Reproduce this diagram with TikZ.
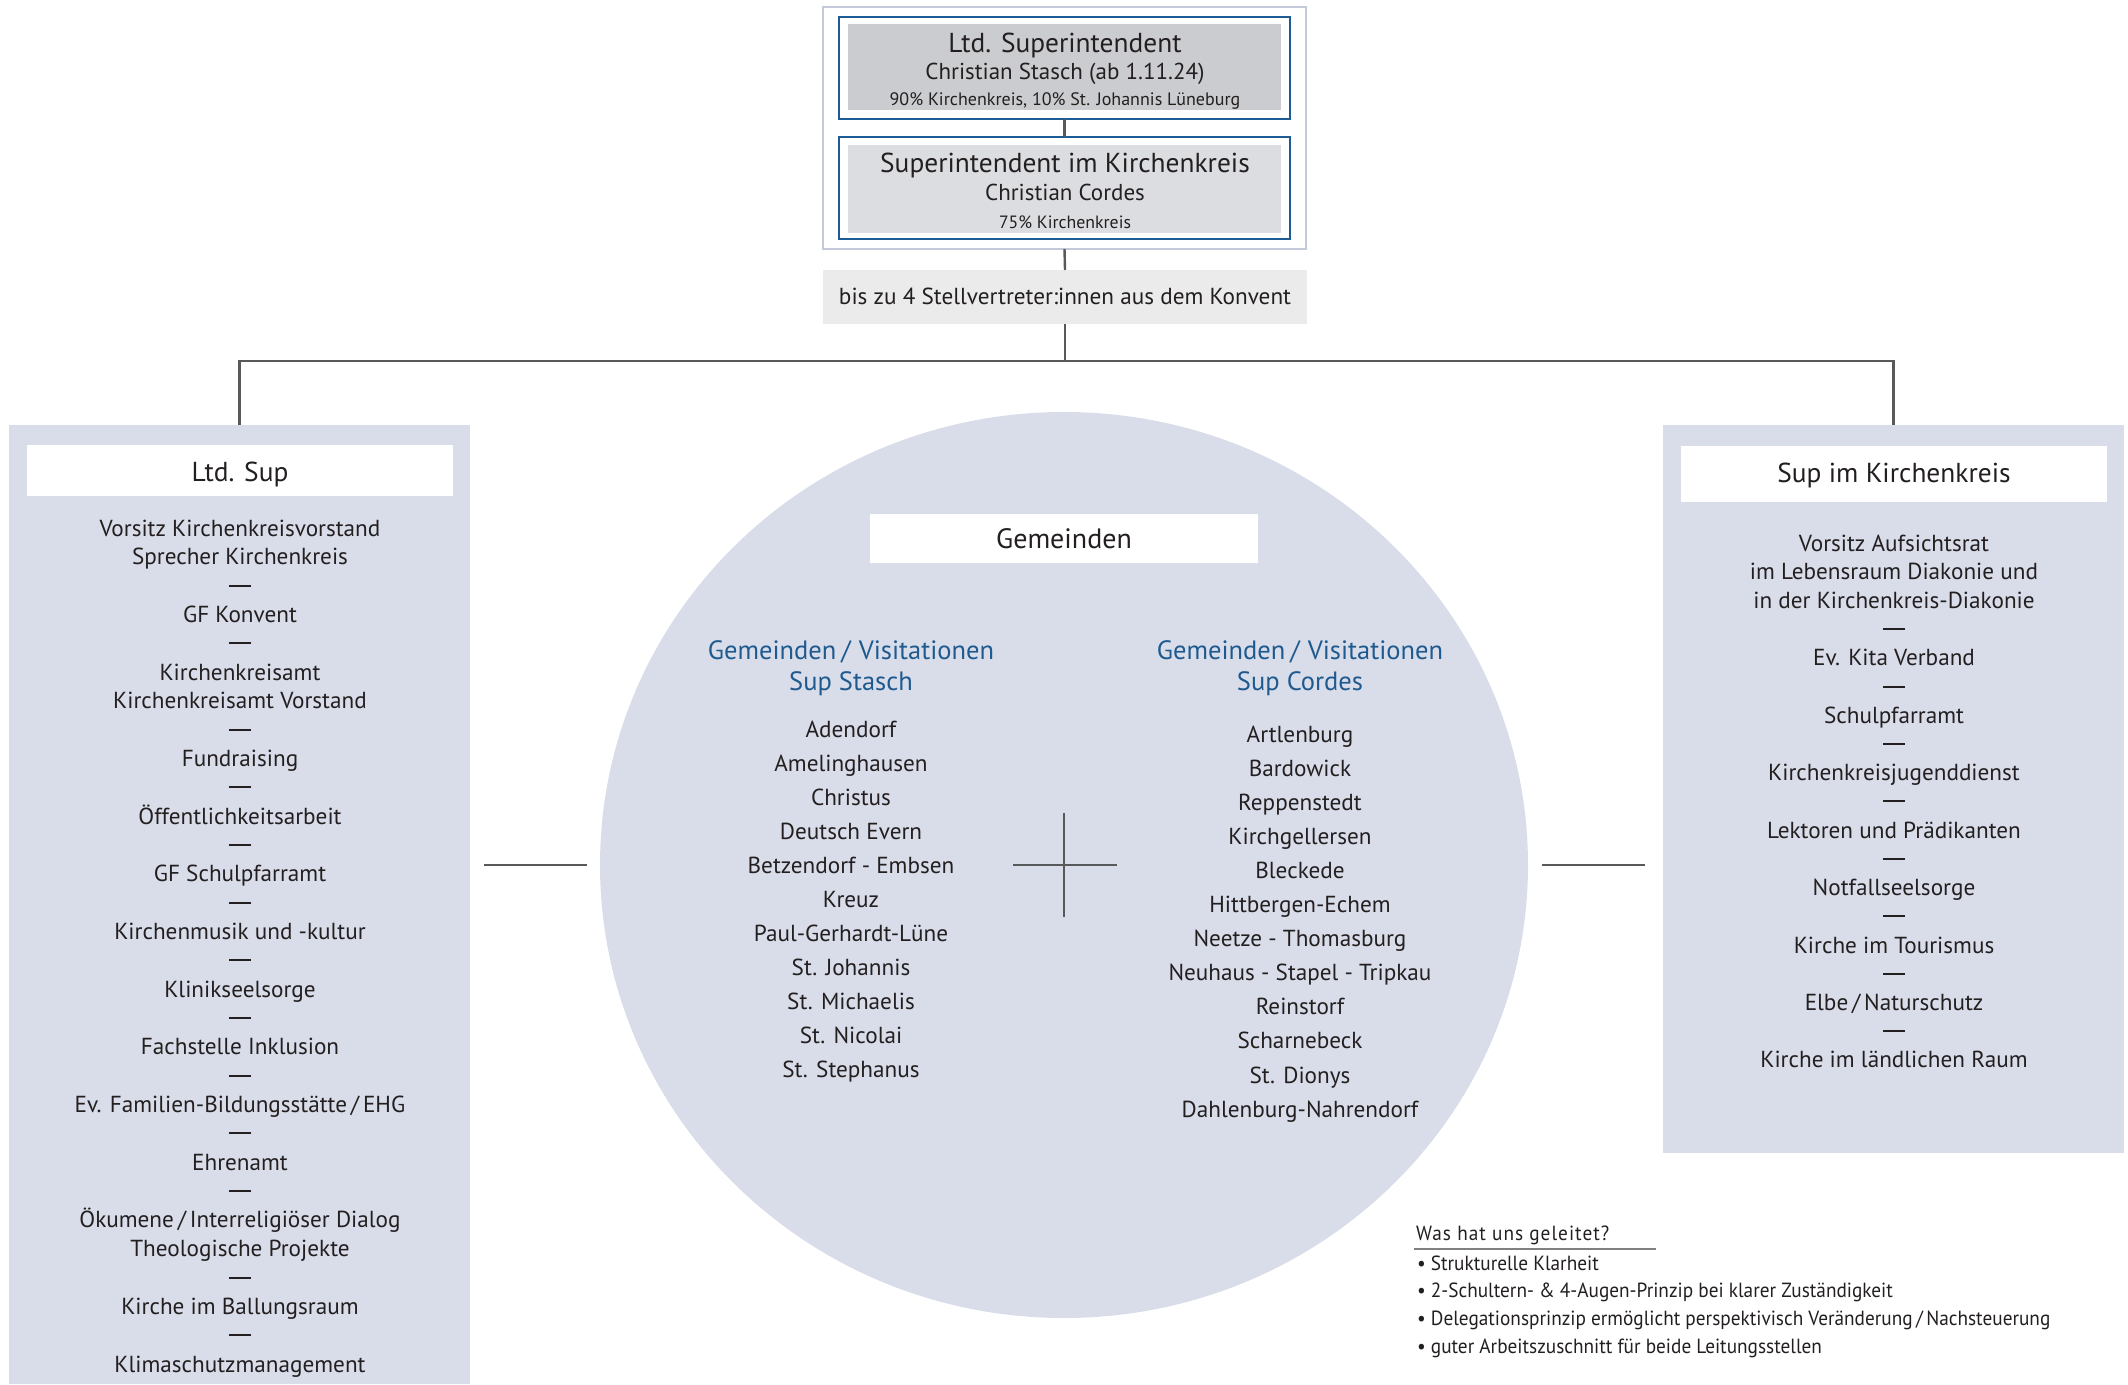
\documentclass[tikz,border=0pt]{standalone}
\usepackage{fontspec}
\setmainfont{PT Sans}
\newfontfamily\condfont[FakeStretch=0.94]{PT Sans}
\usetikzlibrary{positioning,shapes.geometric}
\definecolor{txt}{HTML}{231F20}
\definecolor{panelbg}{HTML}{D9DDE9}
\definecolor{framebl}{HTML}{1C5D95}
\definecolor{outerfr}{HTML}{C5CADB}
\definecolor{grayA}{HTML}{CBCCCF}
\definecolor{grayB}{HTML}{DCDDE0}
\definecolor{grayC}{HTML}{EBEBEB}
\definecolor{linec}{HTML}{58595B}
\definecolor{bluetxt}{HTML}{1E5A8F}
\newcommand\sepdash{\textcolor{txt}{\rule[7pt]{22pt}{2pt}}}
\tikzset{
  box/.style={inner sep=0pt, outer sep=0pt, anchor=north west},
  conn/.style={draw=linec, line width=2.4pt},
  lbl/.style={inner sep=0pt, anchor=base, text=txt},
  item/.style={lbl, font=\fontsize{23.2}{26}\selectfont},
  head/.style={lbl, text=bluetxt, font=\fontsize{26.5}{30}\selectfont},
}
\begin{document}
\begin{tikzpicture}[x=1pt,y=-1pt]
\useasboundingbox (0,0) rectangle (2128,1384);
% top group
\node[box, draw=outerfr, line width=1.5pt, fill=white, minimum width=483pt, minimum height=242pt] (outer) at (823,7) {};
\node[box, draw=framebl, line width=2.5pt, fill=white, minimum width=451pt, minimum height=102pt] (b1) at (839,17) {};
\node[box, fill=grayA, minimum width=433pt, minimum height=86pt] (b1in) at (848,24) {};
\node[box, draw=framebl, line width=2.5pt, fill=white, minimum width=451pt, minimum height=102pt] (b2) at (839,137) {};
\node[box, fill=grayB, minimum width=433pt, minimum height=88pt] (b2in) at (848,145) {};
\node[lbl, font=\fontsize{27.4}{30}\selectfont] (t1a) at (1065,52) {Ltd. Superintendent};
\node[lbl, font=\fontsize{23}{26}\selectfont] (t1b) at (1065,79) {Christian Stasch (ab 1.11.24)};
\node[lbl, font=\fontsize{18}{20}\selectfont] (t1c) at (1065,105) {90\% Kirchenkreis, 10\% St. Johannis Lüneburg};
\node[lbl, font=\fontsize{27.4}{30}\selectfont] (t2a) at (1065,172) {Superintendent im Kirchenkreis};
\node[lbl, font=\fontsize{23}{26}\selectfont] (t2b) at (1065,200) {Christian Cordes};
\node[lbl, font=\fontsize{17.8}{20}\selectfont] (t2c) at (1065,228) {75\% Kirchenkreis};
\draw[conn] (b1.south) -- (b2.north);
% Konvent
\node[box, fill=grayC, minimum width=484pt, minimum height=54pt] (konv) at (823,270) {};
\node[lbl, font=\fontsize{23.2}{26}\selectfont] (konvt) at (1065,304) {bis zu 4 Stellvertreter:innen aus dem Konvent};
\draw[conn] (outer.south) -- (konv.north);
% panels
\node[box, fill=panelbg, minimum width=461pt, minimum height=959pt] (lp) at (9,425) {};
\node[box, fill=panelbg, minimum width=461pt, minimum height=728pt] (rp) at (1663,425) {};
\draw[conn] (konv.south) -- (1065,361) -| (lp.north);
\draw[conn] (1065,361) -| (rp.north);
\node[box, fill=white, minimum width=426pt, minimum height=51pt] (lt) at (27,445) {};
\node[lbl, font=\fontsize{27.4}{30}\selectfont] (ltt) at (240,481) {Ltd. Sup};
\node[box, fill=white, minimum width=426pt, minimum height=56pt] (rt) at (1681,446) {};
\node[lbl, font=\fontsize{27.4}{30}\selectfont] (rtt) at (1894,482) {Sup im Kirchenkreis};
\foreach \t [count=\i from 0] in {Vorsitz Kirchenkreisvorstand, Sprecher Kirchenkreis, \sepdash, GF Konvent, \sepdash, Kirchenkreisamt, Kirchenkreisamt Vorstand, \sepdash, Fundraising, \sepdash, Öffentlichkeitsarbeit, \sepdash, GF Schulpfarramt, \sepdash, Kirchenmusik und -kultur, \sepdash, Klinikseelsorge, \sepdash, Fachstelle Inklusion, \sepdash, Ev. Familien-Bildungsstätte\,/\,EHG, \sepdash, Ehrenamt, \sepdash, Ökumene\,/\,Interreligiöser Dialog, Theologische Projekte, \sepdash, Kirche im Ballungsraum, \sepdash, Klimaschutzmanagement}
  \node[item] (L\i) at (240,536+\i*28.83) {\t};
\foreach \t [count=\i from 0] in {Vorsitz Aufsichtsrat, im Lebensraum Diakonie und, in der Kirchenkreis-Diakonie, \sepdash, Ev. Kita Verband, \sepdash, Schulpfarramt, \sepdash, Kirchenkreisjugenddienst, \sepdash, Lektoren und Prädikanten, \sepdash, Notfallseelsorge, \sepdash, Kirche im Tourismus, \sepdash, Elbe\,/\,Naturschutz, \sepdash, Kirche im ländlichen Raum}
  \node[item] (R\i) at (1894,551+\i*28.72) {\t};
% circle
\node[ellipse, fill=panelbg, minimum width=928pt, minimum height=906pt, inner sep=0pt] (circ) at (1064,865) {};
\node[box, fill=white, minimum width=388pt, minimum height=49pt] (gem) at (870,514) {};
\node[lbl, font=\fontsize{28}{30}\selectfont] (gemt) at (1064,548) {Gemeinden};
\coordinate (la) at (484,865); \coordinate (lb) at (587,865);
\coordinate (ra) at (1542,865); \coordinate (rb) at (1645,865);
\draw[conn] (la) -- (lb);
\draw[conn] (ra) -- (rb);
\coordinate (cxa) at (1013,865); \coordinate (cxb) at (1117,865);
\coordinate (cya) at (1064,813); \coordinate (cyb) at (1064,917);
\draw[conn] (cxa) -- (cxb);
\draw[conn] (cya) -- (cyb);
\node[head] (h1a) at (851,659) {Gemeinden\hspace{5pt}/\hspace{8pt}Visitationen};
\node[head] (h1b) at (851,690) {Sup Stasch};
\node[head] (h2a) at (1300,659) {Gemeinden\hspace{5pt}/\hspace{8pt}Visitationen};
\node[head] (h2b) at (1300,690) {Sup Cordes};
\foreach \t [count=\i from 0] in {Adendorf, Amelinghausen, Christus, Deutsch Evern, Betzendorf - Embsen, Kreuz, Paul-Gerhardt-Lüne, St. Johannis, St. Michaelis, St. Nicolai, St. Stephanus}
  \node[item] (G\i) at (851,737+\i*34) {\t};
\foreach \t [count=\i from 0] in {Artlenburg, Bardowick, Reppenstedt, Kirchgellersen, Bleckede, Hittbergen-Echem, Neetze - Thomasburg, Neuhaus - Stapel - Tripkau, Reinstorf, Scharnebeck, St. Dionys, Dahlenburg-Nahrendorf}
  \node[item] (H\i) at (1300,742+\i*34.1) {\t};
% notes
\node[inner sep=0pt, anchor=base west, text=txt, font=\condfont\fontsize{20.5}{22}\selectfont\addfontfeatures{LetterSpace=5}] (nt) at (1416,1240) {Was hat uns geleitet?};
\coordinate (ua) at (1414,1249); \coordinate (ub) at (1656,1249);
\draw[draw=gray, line width=1.5pt] (ua) -- (ub);
\foreach \t [count=\i from 0] in {Strukturelle Klarheit, 2-Schultern- \& 4-Augen-Prinzip bei klarer Zuständigkeit, Delegationsprinzip ermöglicht perspektivisch Veränderung\,/\,Nachsteuerung, guter Arbeitszuschnitt für beide Leitungsstellen}
  \node[inner sep=0pt, anchor=base west, text=txt, font=\condfont\fontsize{20.5}{22}\selectfont] (n\i) at (1417,1270+\i*27.9) {•\hspace{5pt}\t};
\end{tikzpicture}
\end{document}
